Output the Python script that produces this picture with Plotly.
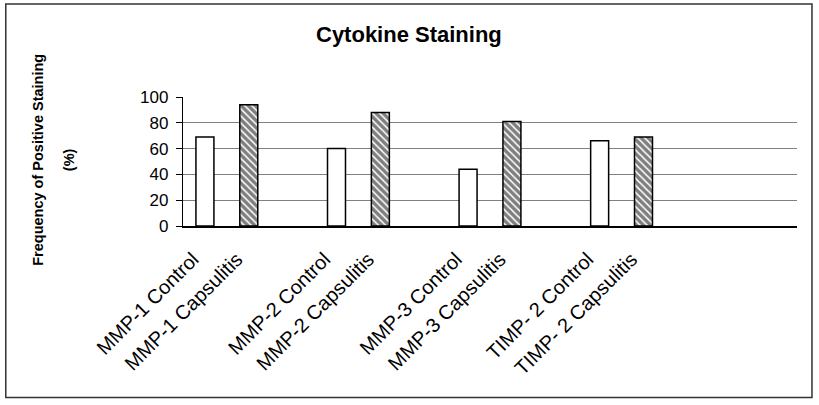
import plotly.graph_objects as go

groups = ["MMP-1", "MMP-2", "MMP-3", "TIMP- 2"]
control_labels = ["MMP-1 Control", "MMP-2 Control", "MMP-3 Control", "TIMP- 2 Control"]
capsulitis_labels = ["MMP-1 Capsulitis", "MMP-2 Capsulitis", "MMP-3 Capsulitis", "TIMP- 2 Capsulitis"]
control_values = [69, 60, 44, 66]
capsulitis_values = [94, 88, 81, 69]
y_ticks = [0, 20, 40, 60, 80, 100]

FONT = "Liberation Sans, Arial, sans-serif"

# category slots: control, capsulitis, gap for each group
ctrl_x = [3 * i for i in range(len(groups))]
caps_x = [3 * i + 1 for i in range(len(groups))]

fig = go.Figure()
fig.add_trace(go.Bar(
    x=ctrl_x, y=control_values, width=0.41, name="Control",
    marker=dict(color="white", line=dict(color="black", width=1.5)),
))
fig.add_trace(go.Bar(
    x=caps_x, y=capsulitis_values, width=0.41, name="Capsulitis",
    marker=dict(color="white", line=dict(color="black", width=1.5),
                pattern=dict(shape="\\", fgcolor="black", bgcolor="white",
                             size=5, solidity=0.7)),
))

tickvals = []
ticktext = []
for i in range(len(groups)):
    tickvals += [ctrl_x[i], caps_x[i]]
    ticktext += [control_labels[i], capsulitis_labels[i]]

L, R, T, B = 182.5, 797.5, 97, 226
W = R - L
H = B - T

def px(xp):
    return (xp - L) / W

def py(yp):
    return (B - yp) / H

fig.update_layout(
    width=819, height=405,
    margin=dict(l=L, r=819 - R, t=T, b=405 - B, autoexpand=False),
    paper_bgcolor="white", plot_bgcolor="white",
    barmode="overlay", showlegend=False,
    font=dict(family=FONT, color="black"),
    xaxis=dict(range=[-0.5, 13.5], tickvals=tickvals, ticktext=ticktext,
               tickangle=-45, showgrid=False, zeroline=False,
               showline=True, linecolor="black", linewidth=1.5,
               ticks="", ticklabelstandoff=12, ticklabelshift=-12,
               tickfont=dict(family=FONT, size=20, color="black")),
    yaxis=dict(range=[0, 100], tickvals=y_ticks, showgrid=True,
               gridcolor="#808080", gridwidth=1.3, zeroline=False,
               showline=True, linecolor="black", linewidth=1.3,
               ticks="outside", ticklen=6, tickcolor="black", tickwidth=1.3,
               ticklabelstandoff=4,
               tickfont=dict(family=FONT, size=17, color="black")),
    annotations=[
        dict(text="<b>Cytokine Staining</b>", xref="paper", yref="paper",
             x=px(409), y=py(34.7), xanchor="center", yanchor="middle",
             showarrow=False, font=dict(family=FONT, size=22, color="black")),
        dict(text="<b>Frequency of Positive Staining</b>", xref="paper", yref="paper",
             x=px(37), y=py(160), xanchor="center", yanchor="middle", textangle=-90,
             showarrow=False, font=dict(family=FONT, size=14.5, color="black")),
        dict(text="<b>(%)</b>", xref="paper", yref="paper",
             x=px(68.5), y=py(160), xanchor="center", yanchor="middle", textangle=-90,
             showarrow=False, font=dict(family=FONT, size=14.5, color="black")),
    ],
    shapes=[
        dict(type="rect", xref="paper", yref="paper",
             x0=px(5), x1=px(812.5), y0=py(397.5), y1=py(4),
             line=dict(color="#333333", width=1.5), fillcolor="rgba(0,0,0,0)",
             layer="below"),
    ],
)

fig.write_html("out.html", config={"displayModeBar": False},
               post_script="document.body.style.margin='0';")
